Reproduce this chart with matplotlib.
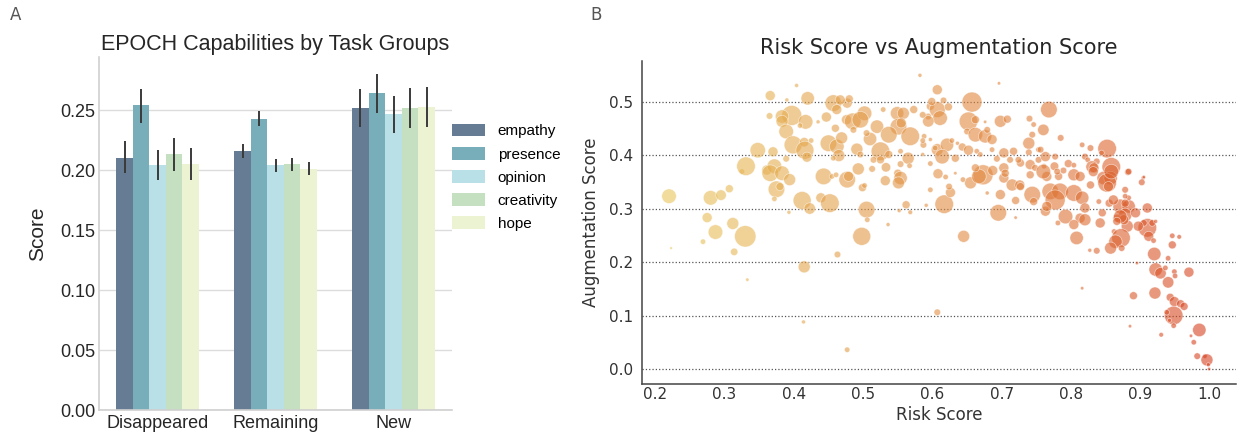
import numpy as np
import matplotlib
matplotlib.use("Agg")
import matplotlib.pyplot as plt
from matplotlib.colors import LinearSegmentedColormap, Normalize

# ---------------- Panel A data ----------------
groups = ["Disappeared", "Remaining", "New"]
capabilities = ["empathy", "presence", "opinion", "creativity", "hope"]
means = {
    "empathy":    [0.2104, 0.2160, 0.2519],
    "presence":   [0.2546, 0.2430, 0.2644],
    "opinion":    [0.2043, 0.2041, 0.2466],
    "creativity": [0.2135, 0.2049, 0.2519],
    "hope":       [0.2049, 0.2013, 0.2530],
}
ci_low = {
    "empathy":    [0.1977, 0.2102, 0.2360],
    "presence":   [0.2390, 0.2369, 0.2480],
    "opinion":    [0.1918, 0.1985, 0.2313],
    "creativity": [0.1996, 0.1993, 0.2352],
    "hope":       [0.1916, 0.1960, 0.2363],
}
ci_high = {
    "empathy":    [0.2240, 0.2216, 0.2675],
    "presence":   [0.2680, 0.2491, 0.2802],
    "opinion":    [0.2168, 0.2096, 0.2619],
    "creativity": [0.2269, 0.2102, 0.2683],
    "hope":       [0.2182, 0.2066, 0.2691],
}
bar_colors = ["#667c95", "#78aeba", "#b9dfe7", "#c5dfc1", "#ecf3d3"]

# ---------------- Panel B data ----------------
risk = [0.220, 0.280, 0.295, 0.307, 0.275, 0.287, 0.312, 0.330, 0.269, 0.223,
        0.314, 0.333, 0.325, 0.331, 0.348, 0.370, 0.389, 0.361, 0.372, 0.366,
        0.383, 0.394, 0.375, 0.380, 0.372, 0.366, 0.404, 0.420, 0.390, 0.457,
        0.462, 0.397, 0.383, 0.383, 0.365, 0.417, 0.447, 0.435, 0.409, 0.460,
        0.389, 0.399, 0.415, 0.425, 0.416, 0.419, 0.450, 0.462, 0.443, 0.455,
        0.412, 0.423, 0.393, 0.439, 0.452, 0.415, 0.463, 0.414, 0.477, 0.461,
        0.477, 0.476, 0.485, 0.502, 0.496, 0.520, 0.529, 0.549, 0.558, 0.573,
        0.582, 0.551, 0.537, 0.568, 0.510, 0.505, 0.486, 0.469, 0.491, 0.496,
        0.525, 0.537, 0.515, 0.525, 0.465, 0.457, 0.565, 0.554, 0.567, 0.587,
        0.588, 0.597, 0.594, 0.597, 0.607, 0.607, 0.586, 0.493, 0.513, 0.533,
        0.532, 0.550, 0.554, 0.551, 0.477, 0.479, 0.499, 0.502, 0.597, 0.608,
        0.505, 0.506, 0.498, 0.536, 0.562, 0.552, 0.568, 0.591, 0.619, 0.633,
        0.617, 0.626, 0.624, 0.645, 0.655, 0.673, 0.679, 0.695, 0.698, 0.703,
        0.715, 0.726, 0.720, 0.720, 0.744, 0.746, 0.741, 0.687, 0.696, 0.657,
        0.599, 0.616, 0.623, 0.611, 0.594, 0.586, 0.555, 0.480, 0.467, 0.554,
        0.586, 0.607, 0.621, 0.628, 0.614, 0.633, 0.652, 0.662, 0.650, 0.662,
        0.676, 0.679, 0.686, 0.676, 0.698, 0.708, 0.740, 0.643, 0.652, 0.636,
        0.664, 0.686, 0.693, 0.703, 0.717, 0.712, 0.727, 0.667, 0.703, 0.705,
        0.739, 0.744, 0.746, 0.741, 0.748, 0.753, 0.597, 0.644, 0.727, 0.662,
        0.669, 0.724, 0.604, 0.739, 0.753, 0.607, 0.768, 0.760, 0.785, 0.816,
        0.828, 0.852, 0.844, 0.858, 0.882, 0.820, 0.824, 0.837, 0.830, 0.833,
        0.796, 0.804, 0.776, 0.777, 0.761, 0.763, 0.756, 0.789, 0.804, 0.847,
        0.857, 0.904, 0.765, 0.782, 0.760, 0.780, 0.770, 0.784, 0.777, 0.804,
        0.816, 0.763, 0.792, 0.781, 0.813, 0.808, 0.827, 0.837, 0.820, 0.828,
        0.832, 0.852, 0.858, 0.845, 0.842, 0.840, 0.855, 0.871, 0.883, 0.878,
        0.893, 0.866, 0.881, 0.876, 0.862, 0.872, 0.864, 0.857, 0.873, 0.883,
        0.878, 0.883, 0.902, 0.905, 0.910, 0.910, 0.905, 0.917, 0.922, 0.912,
        0.919, 0.946, 0.956, 0.946, 0.920, 0.940, 0.895, 0.922, 0.929, 0.936,
        0.949, 0.950, 0.970, 0.940, 0.921, 0.890, 0.816, 0.943, 0.949, 0.958,
        0.963, 0.948, 0.938, 0.942, 0.948, 0.885, 0.930, 0.985, 0.973, 0.977,
        0.982, 0.993, 0.996, 0.998, 0.999, 0.878, 0.854, 0.861, 0.878, 0.871,
        0.866, 0.820, 0.897, 0.804, 0.765, 0.813]
augmentation = [
        0.323, 0.320, 0.325, 0.337, 0.283, 0.256, 0.272, 0.248, 0.238, 0.226,
        0.219, 0.167, 0.369, 0.379, 0.409, 0.406, 0.393, 0.372, 0.379, 0.366,
        0.366, 0.354, 0.336, 0.341, 0.318, 0.511, 0.530, 0.506, 0.503, 0.497,
        0.485, 0.474, 0.472, 0.463, 0.473, 0.462, 0.471, 0.462, 0.455, 0.450,
        0.444, 0.419, 0.424, 0.427, 0.409, 0.396, 0.422, 0.416, 0.360, 0.360,
        0.315, 0.300, 0.293, 0.320, 0.310, 0.191, 0.214, 0.088, 0.036, 0.363,
        0.497, 0.466, 0.463, 0.478, 0.466, 0.453, 0.485, 0.478, 0.478, 0.485,
        0.549, 0.453, 0.438, 0.435, 0.430, 0.441, 0.447, 0.432, 0.411, 0.401,
        0.407, 0.401, 0.391, 0.391, 0.399, 0.394, 0.394, 0.383, 0.380, 0.419,
        0.435, 0.429, 0.472, 0.491, 0.522, 0.485, 0.401, 0.374, 0.374, 0.377,
        0.352, 0.366, 0.357, 0.348, 0.354, 0.360, 0.339, 0.343, 0.335, 0.365,
        0.298, 0.279, 0.248, 0.270, 0.307, 0.296, 0.293, 0.306, 0.359, 0.366,
        0.308, 0.330, 0.341, 0.248, 0.348, 0.363, 0.329, 0.292, 0.326, 0.357,
        0.344, 0.344, 0.315, 0.283, 0.326, 0.313, 0.363, 0.371, 0.534, 0.499,
        0.500, 0.502, 0.490, 0.469, 0.463, 0.475, 0.460, 0.505, 0.503, 0.407,
        0.427, 0.410, 0.419, 0.427, 0.397, 0.394, 0.463, 0.466, 0.444, 0.438,
        0.435, 0.447, 0.429, 0.462, 0.463, 0.467, 0.468, 0.415, 0.409, 0.422,
        0.407, 0.410, 0.393, 0.404, 0.407, 0.391, 0.385, 0.360, 0.376, 0.366,
        0.422, 0.438, 0.457, 0.382, 0.376, 0.391, 0.384, 0.354, 0.341, 0.376,
        0.401, 0.391, 0.413, 0.405, 0.410, 0.106, 0.485, 0.447, 0.432, 0.419,
        0.413, 0.412, 0.404, 0.378, 0.368, 0.397, 0.391, 0.388, 0.378, 0.376,
        0.384, 0.381, 0.379, 0.397, 0.379, 0.397, 0.410, 0.371, 0.363, 0.357,
        0.357, 0.357, 0.360, 0.360, 0.369, 0.369, 0.332, 0.332, 0.316, 0.329,
        0.320, 0.295, 0.285, 0.273, 0.282, 0.245, 0.222, 0.221, 0.301, 0.344,
        0.369, 0.348, 0.369, 0.292, 0.273, 0.313, 0.310, 0.304, 0.304, 0.288,
        0.292, 0.282, 0.267, 0.279, 0.257, 0.245, 0.238, 0.226, 0.226, 0.369,
        0.335, 0.320, 0.349, 0.359, 0.301, 0.264, 0.273, 0.273, 0.276, 0.248,
        0.240, 0.249, 0.247, 0.232, 0.215, 0.207, 0.198, 0.186, 0.179, 0.189,
        0.182, 0.174, 0.181, 0.162, 0.142, 0.137, 0.151, 0.134, 0.126, 0.122,
        0.117, 0.100, 0.106, 0.091, 0.081, 0.080, 0.064, 0.073, 0.062, 0.050,
        0.024, 0.024, 0.017, 0.008, 0.000, 0.323, 0.341, 0.316, 0.310, 0.285,
        0.276, 0.279, 0.267, 0.270, 0.304, 0.360]
bubble = [
        7.3, 7.3, 5.3, 4, 5, 7.3, 6, 10.7, 2.7, 1.3,
        3.7, 1.7, 2.7, 9.3, 7.7, 5, 3.3, 5, 7.3, 8.3,
        7.3, 6, 8.3, 4, 2.7, 5, 2, 6.7, 2, 8.3,
        5, 10, 6.7, 6, 3.3, 7.3, 5, 2, 2.7, 4,
        7.3, 9, 4.7, 2.7, 9, 5, 8.3, 7.3, 8.3, 2.7,
        9, 5.7, 2, 5, 9.3, 6, 3.3, 2, 2.7, 2.7,
        5, 5, 8.3, 7.3, 8.3, 6.7, 2.7, 6.7, 6, 4,
        2, 8.3, 8.3, 9.3, 6.7, 3.3, 3.3, 6, 6, 3.3,
        9.3, 4, 3.3, 4, 6, 2.7, 6, 3.3, 2.7, 3.3,
        2.7, 2, 3.3, 4, 5, 8, 2, 6, 3.3, 4.7,
        5, 4, 6.7, 6, 8.3, 5, 4, 2.7, 2.7, 5,
        8.3, 2.7, 9, 2, 4, 2, 2.3, 2, 2.7, 1.7,
        9.3, 5, 3.3, 6, 6, 10, 2, 8.3, 5, 5,
        6, 5, 4, 1.7, 8.3, 4, 4, 5, 1.7, 10,
        4, 3.3, 4, 7.3, 5.7, 3.3, 5, 4, 5, 2.7,
        2.7, 6, 6.7, 2.7, 7.3, 4, 9.3, 4, 3.3, 7.3,
        6.7, 3.3, 5, 1.7, 6, 4, 3.3, 4, 5, 2,
        2.7, 2.7, 3.3, 5, 4, 3.3, 4, 7.3, 5, 4,
        6, 3.3, 2.7, 5, 3.3, 3.3, 2.7, 2.7, 4, 4,
        2.7, 3.3, 2.7, 3.3, 2.7, 3.3, 8.3, 5.7, 3.3, 2.7,
        3.3, 9.3, 2.7, 9.3, 3.3, 3.3, 2.7, 3.3, 6, 5,
        4, 2.7, 4.3, 3.3, 2.7, 5, 3.3, 3.3, 6, 6.7,
        6.7, 2, 5, 4, 7.3, 3.3, 8.3, 8.3, 10, 8.3,
        6.7, 5, 7.3, 2.7, 5, 6.7, 2, 3.3, 5, 4,
        5, 9.3, 7.3, 4, 5, 2.7, 4, 7.3, 6.7, 6.7,
        5, 4, 6, 5, 2.7, 9.3, 6.7, 6, 3.3, 3.3,
        3.3, 2.7, 3.3, 1.7, 5, 9.3, 3.3, 3.3, 2, 5,
        2.7, 2.7, 2.3, 4, 6.7, 2.7, 1.7, 6.7, 5.7, 2.7,
        2.7, 2.7, 5, 5.7, 6, 4, 1.7, 4, 5, 4,
        4, 9.3, 2.7, 2, 2.7, 1.7, 2.3, 6.7, 1.7, 2.7,
        3.3, 2.3, 6, 2, 1.7, 2.7, 5, 5, 4, 6.7,
        4, 6, 5, 5, 5, 5]

# ---------------- figure ----------------
fig = plt.figure(figsize=(12.38, 4.33), dpi=100)

# ---- Panel A ----
axA = fig.add_axes([0.0797, 0.0531, 0.2858, 0.8160])
lib = ["Liberation Sans", "DejaVu Sans"]
x = np.arange(len(groups))
n = len(capabilities)
bw = 0.14
for i, cap in enumerate(capabilities):
    pos = x + (i - (n - 1) / 2) * bw
    m = np.array(means[cap])
    lo = m - np.array(ci_low[cap])
    hi = np.array(ci_high[cap]) - m
    axA.bar(pos, m, width=bw, color=bar_colors[i], label=cap, zorder=2)
    axA.errorbar(pos, m, yerr=[lo, hi], fmt="none", ecolor="#3a3a3a",
                 elinewidth=1.4, capsize=0, zorder=3)
axA.set_xlim(-0.5, 2.5)
axA.set_ylim(0, 0.2947)
axA.set_yticks([0, 0.05, 0.10, 0.15, 0.20, 0.25])
axA.set_yticklabels(["0.00", "0.05", "0.10", "0.15", "0.20", "0.25"],
                    family=lib, fontsize=13, color="#262626")
axA.set_xticks(x)
axA.set_xticklabels(groups, family=lib, fontsize=13, color="#262626")
axA.tick_params(axis="y", length=0, pad=2.5)
axA.tick_params(axis="x", length=0, pad=3.5)
axA.grid(axis="y", color="#dcdcdc", linewidth=1.0, zorder=0)
axA.set_axisbelow(True)
for s in ["top", "right"]:
    axA.spines[s].set_visible(False)
for s in ["left", "bottom"]:
    axA.spines[s].set_color("#d0d0d0")
    axA.spines[s].set_linewidth(1.2)
axA.set_ylabel("Score", family=lib, fontsize=15, color="#262626", labelpad=9)
axA.set_title("EPOCH Capabilities by Task Groups", family=lib, fontsize=15.5,
              color="#262626", pad=5)
axA.legend(loc="upper left", bbox_to_anchor=(1.0, 0.81), frameon=False,
           prop={"family": lib, "size": 11}, handlelength=2.1,
           handleheight=0.9, labelspacing=0.56, handletextpad=0.85,
           borderaxespad=0.0, borderpad=0.0)

# ---- Panel B ----
axB = fig.add_axes([0.5186, 0.1139, 0.4798, 0.7461])
cmap = LinearSegmentedColormap.from_list(
    "risk", ["#e8c65a", "#e39c48", "#e07f3a", "#d6401f"])
norm = Normalize(vmin=min(risk), vmax=max(risk))
r_arr = np.array(risk)
a_arr = np.array(augmentation)
b_arr = np.array(bubble)
axB.scatter(r_arr, a_arr, s=2.07 * b_arr ** 2, c=r_arr, cmap=cmap, norm=norm,
            alpha=0.6, edgecolors="white", linewidths=0.5, zorder=3)
axB.margins(x=0.05, y=0.05)
axB.set_yticks([0.0, 0.1, 0.2, 0.3, 0.4, 0.5])
axB.set_xticks([0.2, 0.3, 0.4, 0.5, 0.6, 0.7, 0.8, 0.9, 1.0])
axB.tick_params(length=0, labelsize=11, colors="#333333")
axB.tick_params(axis="x", pad=2.5)
axB.tick_params(axis="y", pad=6.5)
axB.grid(axis="y", linestyle=":", color="#555555", linewidth=0.9, zorder=0)
axB.grid(axis="x", visible=False)
axB.set_axisbelow(True)
for s in ["top", "right"]:
    axB.spines[s].set_visible(False)
for s in ["left", "bottom"]:
    axB.spines[s].set_color("#444444")
    axB.spines[s].set_linewidth(1.1)
axB.set_xlabel("Risk Score", fontsize=12, color="#333333", labelpad=3)
axB.set_ylabel("Augmentation Score", fontsize=12, color="#333333", labelpad=6)
axB.set_title("Risk Score vs Augmentation Score", fontsize=15,
              color="#262626", pad=5)

fig.text(0.008, 0.965, "A", fontsize=12, color="#555555", va="center")
fig.text(0.4766, 0.965, "B", fontsize=12, color="#555555", va="center")

fig.savefig("out.png", dpi=100)
